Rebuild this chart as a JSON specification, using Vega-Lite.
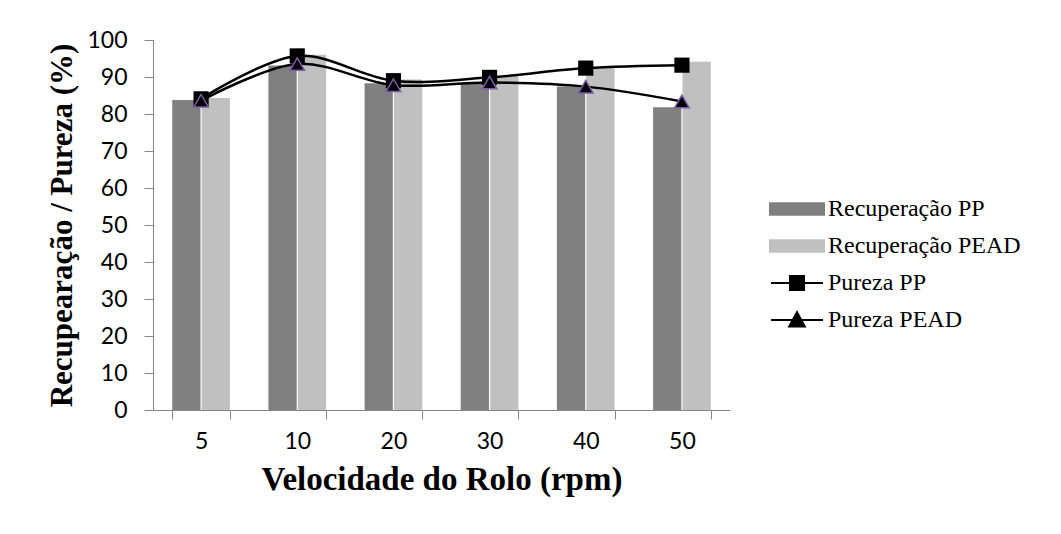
{
  "$schema": "https://vega.github.io/schema/vega-lite/v6.json",
  "width": 577,
  "height": 370,
  "autosize": {"type": "none"},
  "padding": {"left": 153, "top": 40, "right": 331, "bottom": 124},
  "background": "white",
  "config": {
    "view": {"stroke": null},
    "axis": {
      "grid": false,
      "domainColor": "#868686",
      "tickColor": "#868686",
      "labelFont": "Lato",
      "labelFontSize": 23,
      "labelColor": "black",
      "labelOverlap": false,
      "titleFont": "Liberation Serif",
      "titleFontSize": 32,
      "titleFontWeight": "bold",
      "titleColor": "black"
    }
  },
  "data": {
    "values": [
      {"vel": "5", "series": "Recuperação PP", "type": "bar", "value": 83.8},
      {"vel": "10", "series": "Recuperação PP", "type": "bar", "value": 93.1},
      {"vel": "20", "series": "Recuperação PP", "type": "bar", "value": 88.3},
      {"vel": "30", "series": "Recuperação PP", "type": "bar", "value": 88.1},
      {"vel": "40", "series": "Recuperação PP", "type": "bar", "value": 87.4},
      {"vel": "50", "series": "Recuperação PP", "type": "bar", "value": 81.8},
      {"vel": "5", "series": "Recuperação PEAD", "type": "bar", "value": 84.3},
      {"vel": "10", "series": "Recuperação PEAD", "type": "bar", "value": 96.0},
      {"vel": "20", "series": "Recuperação PEAD", "type": "bar", "value": 89.3},
      {"vel": "30", "series": "Recuperação PEAD", "type": "bar", "value": 90.3},
      {"vel": "40", "series": "Recuperação PEAD", "type": "bar", "value": 92.6},
      {"vel": "50", "series": "Recuperação PEAD", "type": "bar", "value": 94.1},
      {"vel": "5", "series": "Pureza PP", "type": "line", "value": 84.1},
      {"vel": "10", "series": "Pureza PP", "type": "line", "value": 95.7},
      {"vel": "20", "series": "Pureza PP", "type": "line", "value": 89.0},
      {"vel": "30", "series": "Pureza PP", "type": "line", "value": 89.9},
      {"vel": "40", "series": "Pureza PP", "type": "line", "value": 92.4},
      {"vel": "50", "series": "Pureza PP", "type": "line", "value": 93.2},
      {"vel": "5", "series": "Pureza PEAD", "type": "line", "value": 83.6},
      {"vel": "10", "series": "Pureza PEAD", "type": "line", "value": 93.5},
      {"vel": "20", "series": "Pureza PEAD", "type": "line", "value": 87.8},
      {"vel": "30", "series": "Pureza PEAD", "type": "line", "value": 88.5},
      {"vel": "40", "series": "Pureza PEAD", "type": "line", "value": 87.4},
      {"vel": "50", "series": "Pureza PEAD", "type": "line", "value": 83.4}
    ]
  },
  "encoding": {
    "x": {
      "field": "vel", "type": "ordinal",
      "sort": ["5", "10", "20", "30", "40", "50"],
      "scale": {"paddingInner": 0.4, "paddingOuter": 0.2},
      "axis": {"title": "Velocidade do Rolo (rpm)", "titleFontSize": 33, "labelAngle": 0, "tickBand": "extent", "tickSize": 9, "labelPadding": 11, "titlePadding": 10}
    },
    "y": {
      "field": "value", "type": "quantitative",
      "scale": {"domain": [0, 100]},
      "axis": {"title": "Recupearação / Pureza (%)", "titleFontSize": 31, "values": [0, 10, 20, 30, 40, 50, 60, 70, 80, 90, 100], "labelOverlap": false, "tickSize": 9, "labelPadding": 17, "titlePadding": 8}
    }
  },
  "layer": [
    {
      "transform": [{"filter": "datum.type == 'bar'"}],
      "mark": {"type": "bar"},
      "encoding": {
        "xOffset": {"field": "series", "type": "nominal", "sort": ["Recuperação PP", "Recuperação PEAD"], "scale": {"paddingInner": 0.04}},
        "color": {
          "field": "series", "type": "nominal",
          "scale": {"domain": ["Recuperação PP", "Recuperação PEAD", "Pureza PP", "Pureza PEAD"], "range": ["#808080", "#c0c0c0", "#000000", "#000000"]},
          "legend": {
            "orient": "none", "legendX": 630, "legendY": 155, "title": null,
            "labelFont": "Liberation Serif", "labelFontSize": 24, "labelColor": "black",
            "symbolSize": 676, "rowPadding": 11, "labelOffset": 17, "padding": 0, "labelLimit": 400,
            "encode": {
              "symbols": {
                "update": {
                  "shape": {"signal": "datum.value == 'Pureza PP' ? 'M-2,0H2M-0.54,-0.54H0.54V0.54H-0.54Z' : datum.value == 'Pureza PEAD' ? 'M-2,0H2M0,-0.6L0.6,0.5H-0.6Z' : 'M-2.08,-0.45H2.08V0.45H-2.08Z'"},
                  "stroke": {"signal": "datum.value == 'Pureza PP' || datum.value == 'Pureza PEAD' ? 'black' : 'transparent'"},
                  "fill": {"signal": "datum.value == 'Pureza PP' || datum.value == 'Pureza PEAD' ? 'black' : datum.value == 'Recuperação PP' ? '#808080' : '#c0c0c0'"},
                  "strokeWidth": {"value": 2},
                  "opacity": {"value": 1},
                  "fillOpacity": {"value": 1},
                  "strokeOpacity": {"value": 1}
                }
              }
            }
          }
        }
      }
    },
    {
      "transform": [{"filter": "datum.series == 'Pureza PP'"}],
      "mark": {"type": "line", "interpolate": "catmull-rom", "strokeWidth": 2.5},
      "encoding": {
        "color": {"field": "series", "type": "nominal"}
      }
    },
    {
      "transform": [{"filter": "datum.series == 'Pureza PEAD'"}],
      "mark": {"type": "line", "interpolate": "catmull-rom", "strokeWidth": 2.5},
      "encoding": {
        "color": {"field": "series", "type": "nominal"}
      }
    },
    {
      "transform": [{"filter": "datum.series == 'Pureza PP'"}],
      "mark": {"type": "point", "shape": "square", "filled": true, "size": 230, "color": "black", "opacity": 1},
      "encoding": {}
    },
    {
      "transform": [{"filter": "datum.series == 'Pureza PEAD'"}],
      "mark": {"type": "point", "shape": "triangle-up", "filled": true, "size": 210, "fill": "black", "stroke": "#7b5aa6", "strokeWidth": 1.5, "opacity": 1},
      "encoding": {}
    }
  ]
}
